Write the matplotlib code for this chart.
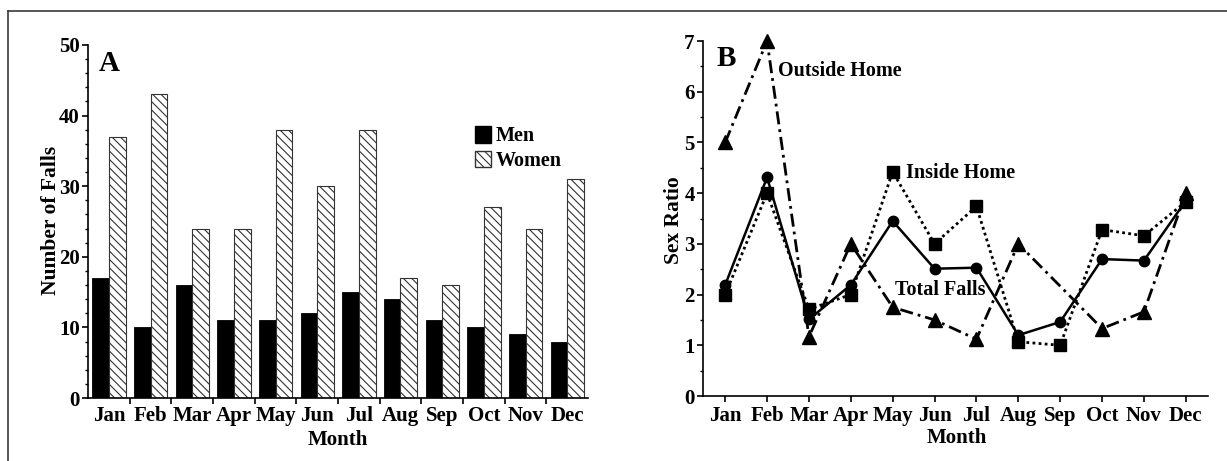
import matplotlib
matplotlib.use("Agg")
import matplotlib.pyplot as plt
import numpy as np
from matplotlib.lines import Line2D
from matplotlib.patches import Patch

plt.rcParams['font.family'] = ['Liberation Serif', 'DejaVu Serif']
plt.rcParams['font.weight'] = 'bold'
plt.rcParams['axes.labelweight'] = 'bold'
plt.rcParams['hatch.linewidth'] = 0.8

# ----------- data -----------
months = ['Jan', 'Feb', 'Mar', 'Apr', 'May', 'Jun',
          'Jul', 'Aug', 'Sep', 'Oct', 'Nov', 'Dec']

men = [17, 10, 16, 11, 11, 12, 15, 14, 11, 10, 9, 8]
women = [37, 43, 24, 24, 38, 30, 38, 17, 16, 27, 24, 31]

total_falls = [2.19, 4.31, 1.51, 2.19, 3.45, 2.51, 2.53, 1.20, 1.46, 2.70, 2.67, 3.85]
inside_home = [2.0, 4.0, 1.71, 2.0, 4.42, 3.0, 3.74, 1.07, 1.0, 3.28, 3.16, 3.83]
outside_home = [5.0, 7.0, 1.17, 3.0, 1.75, 1.5, 1.12, 3.0, None, 1.33, 1.66, 4.0]

W, H = 1227, 461
fig = plt.figure(figsize=(W / 100, H / 100), dpi=100)

# frame lines (top and left only, picture is cropped)
fig.add_artist(Line2D([8 / W, 1], [1 - 11 / H, 1 - 11 / H], transform=fig.transFigure,
                      color='#3a3a3a', lw=1.2))
fig.add_artist(Line2D([8 / W, 8 / W], [0, 1 - 11 / H], transform=fig.transFigure,
                      color='#3a3a3a', lw=1.2))


def style_axes(ax):
    for s in ['top', 'right']:
        ax.spines[s].set_visible(False)
    for s in ['left', 'bottom']:
        ax.spines[s].set_linewidth(1.2)
    ax.tick_params(axis='y', which='major', direction='out', length=4, width=1.2,
                   labelsize=15, pad=2)
    ax.tick_params(axis='y', which='minor', direction='out', length=2.5, width=1.0)


# ----------- panel A -----------
axA = fig.add_axes([88 / W, 1 - 398 / H, 500 / W, 353 / H])
x = np.arange(1, 13)
axA.bar(x - 0.2, men, width=0.4, color='black', edgecolor='black', linewidth=0.6)
axA.bar(x + 0.2, women, width=0.4, color='white', edgecolor='#333333',
        hatch='\\\\\\\\', linewidth=0.8)
axA.set_xlim(0.5, 12.5)
axA.set_ylim(0, 50)
style_axes(axA)
axA.set_yticks(np.arange(0, 51, 10))
axA.set_yticks(np.arange(0, 51, 2), minor=True)
axA.set_xticks(np.arange(1.5, 12, 1))
axA.set_xticklabels([])
axA.set_xticks(x, minor=True)
axA.set_xticklabels(months, minor=True)
axA.tick_params(axis='x', which='major', direction='out', length=4, width=1.2)
axA.tick_params(axis='x', which='minor', length=0, labelsize=15, pad=6)
axA.set_ylabel('Number of Falls', fontsize=15.5, va='center')
axA.yaxis.set_label_coords(-0.074, 0.504)
axA.set_xlabel('Month', fontsize=15)
axA.xaxis.set_label_coords(0.5, -0.092)
axA.text(0.021, 0.948, 'A', transform=axA.transAxes, fontsize=21,
         ha='left', va='center')
handles = [Patch(facecolor='black', edgecolor='black'),
           Patch(facecolor='white', edgecolor='#333333', hatch='\\\\\\\\')]
axA.legend(handles, ['Men', 'Women'], loc='upper left', bbox_to_anchor=(0.745, 0.81),
           frameon=False, fontsize=14.5, handlelength=0.8, handleheight=0.9,
           handletextpad=0.25, labelspacing=0.2, borderpad=0.2)

# ----------- panel B -----------
axB = fig.add_axes([703 / W, 1 - 396 / H, 505 / W, 355 / H])
ox = [m for m, v in zip(x, outside_home) if v is not None]
oy = [v for v in outside_home if v is not None]
axB.plot(ox, oy, color='black', lw=2.0, linestyle=(0, (4.7, 1.8, 1.0, 1.8)),
         marker='^', markersize=9.5, zorder=3, clip_on=False)
axB.plot(x, total_falls, color='black', lw=1.8, linestyle='-',
         marker='o', markersize=7.5, zorder=4, clip_on=False)
axB.plot(x, inside_home, color='black', lw=2.0, linestyle=(0, (1.0, 1.2)),
         marker='s', markersize=8, zorder=5, clip_on=False)
axB.set_xlim(0.47, 12.53)
axB.set_ylim(0, 7)
style_axes(axB)
axB.set_yticks(np.arange(0, 8, 1))
axB.set_yticks(np.arange(0, 7.01, 0.5), minor=True)
axB.set_xticks(x)
axB.set_xticklabels(months)
axB.tick_params(axis='x', which='major', direction='out', length=4, width=1.2,
                labelsize=15, pad=3)
axB.set_ylabel('Sex Ratio', fontsize=15.5, va='center')
axB.yaxis.set_label_coords(-0.057, 0.496)
axB.set_xlabel('Month', fontsize=15)
axB.xaxis.set_label_coords(0.503, -0.09)
axB.text(0.026, 0.951, 'B', transform=axB.transAxes, fontsize=21,
         ha='left', va='center')
axB.text(2.26, 6.40, 'Outside Home', fontsize=14.5, ha='left', va='center')
axB.text(5.32, 4.40, 'Inside Home', fontsize=14.5, ha='left', va='center')
axB.text(5.06, 2.10, 'Total Falls', fontsize=14.5, ha='left', va='center')

fig.savefig('out.png', dpi=100)
